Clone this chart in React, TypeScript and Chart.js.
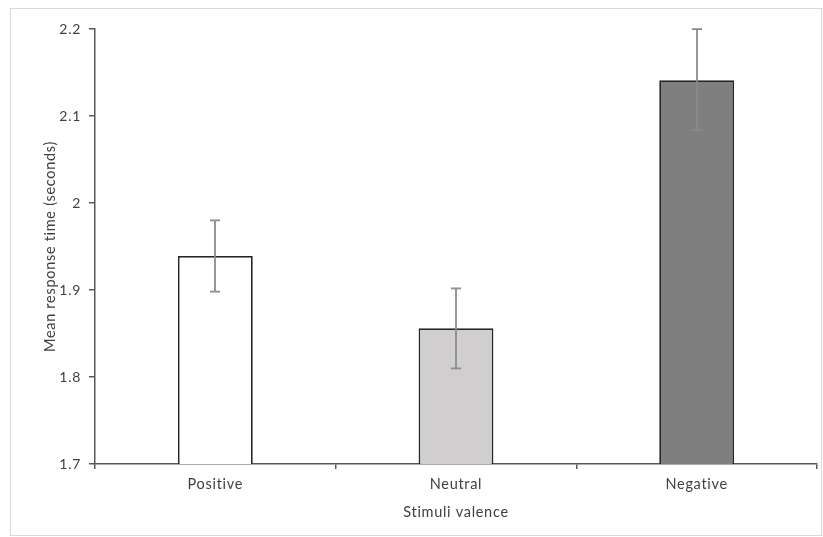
import React, { useEffect, useRef } from "react";
import { Chart, registerables } from "chart.js";

Chart.register(...registerables);

const categories = ["Positive", "Neutral", "Negative"];
const meanValues = [1.939, 1.856, 2.141];
const errorLow = [1.898, 1.81, 2.084];
const errorHigh = [1.98, 1.902, 2.2];
const barColors = ["#ffffff", "#d0cece", "#7f7f7f"];
const yMin = 1.7;
const yMax = 2.2;
const yStep = 0.1;
const yTitle = "Mean response time (seconds)";
const xTitle = "Stimuli valence";

const FONT = "Lato, 'Open Sans', sans-serif";

const framePlugin = {
  id: "frame",
  beforeDraw(chart: any) {
    const ctx = chart.ctx;
    ctx.fillStyle = "#ffffff";
    ctx.fillRect(0, 0, chart.width, chart.height);
    ctx.strokeStyle = "#d9d9d9";
    ctx.lineWidth = 1;
    ctx.strokeRect(10.5, 8.5, chart.width - 12, chart.height - 10);
    (ctx as any).letterSpacing = "0.7px";
  },
};

const errorBarPlugin = {
  id: "errorBars",
  afterDatasetsDraw(chart: any) {
    const ctx = chart.ctx;
    const meta = chart.getDatasetMeta(0);
    const y = chart.scales.y;
    ctx.save();
    ctx.strokeStyle = "#8a8a8a";
    ctx.lineWidth = 1.75;
    meta.data.forEach((bar: any, i: number) => {
      const x = Math.round(bar.x);
      const yh = y.getPixelForValue(errorHigh[i]);
      const yl = y.getPixelForValue(errorLow[i]);
      ctx.beginPath();
      ctx.moveTo(x, yh);
      ctx.lineTo(x, yl);
      ctx.moveTo(x - 5, yh);
      ctx.lineTo(x + 5, yh);
      ctx.moveTo(x - 5, yl);
      ctx.lineTo(x + 5, yl);
      ctx.stroke();
    });
    ctx.restore();
  },
};

export default function App() {
  const canvasRef = useRef<HTMLCanvasElement | null>(null);

  useEffect(() => {
    if (!canvasRef.current) return;
    const chart = new Chart(canvasRef.current, {
      type: "bar",
      data: {
        labels: categories,
        datasets: [
          {
            data: meanValues,
            backgroundColor: barColors,
            borderColor: "#262626",
            borderWidth: 1.75,
            barPercentage: 0.311,
            categoryPercentage: 1,
          },
        ],
      },
      options: {
        responsive: false,
        animation: false,
        devicePixelRatio: 1,
        layout: { padding: { left: 0, top: 29, right: 6, bottom: 0 } },
        plugins: {
          legend: { display: false },
          tooltip: { enabled: false },
        },
        scales: {
          x: {
            afterFit: (scale: any) => {
              scale.height = 73;
            },
            grid: {
              offset: true,
              drawOnChartArea: false,
              drawTicks: true,
              tickLength: 5,
              color: "#595959",
              lineWidth: 1.5,
            },
            border: { display: true, color: "#595959", width: 1.5 },
            ticks: {
              padding: 7,
              color: "#404040",
              font: { family: FONT, size: 14.5 },
            },
            title: {
              display: true,
              text: xTitle,
              color: "#404040",
              font: { family: FONT, size: 14.5 },
              padding: { top: 0, bottom: 16 },
            },
          },
          y: {
            min: yMin,
            max: yMax,
            afterFit: (scale: any) => {
              scale.width = 95;
            },
            grid: {
              drawOnChartArea: false,
              drawTicks: true,
              tickLength: 6,
              color: "#595959",
              lineWidth: 1.5,
            },
            border: { display: true, color: "#595959", width: 1.5 },
            ticks: {
              stepSize: yStep,
              padding: 8,
              color: "#404040",
              font: { family: FONT, size: 14 },
              callback: (v: any) => String(Number(Number(v).toFixed(1))),
            },
            title: {
              display: true,
              text: yTitle,
              color: "#404040",
              font: { family: FONT, size: 14.5 },
              padding: { top: 42, bottom: 0 },
            },
          },
        },
      },
      plugins: [framePlugin, errorBarPlugin],
    });
    return () => chart.destroy();
  }, []);

  return (
    <div style={{ position: "absolute", left: 0, top: 0, width: 823, height: 537 }}>
      <canvas ref={canvasRef} width={823} height={537} />
    </div>
  );
}
